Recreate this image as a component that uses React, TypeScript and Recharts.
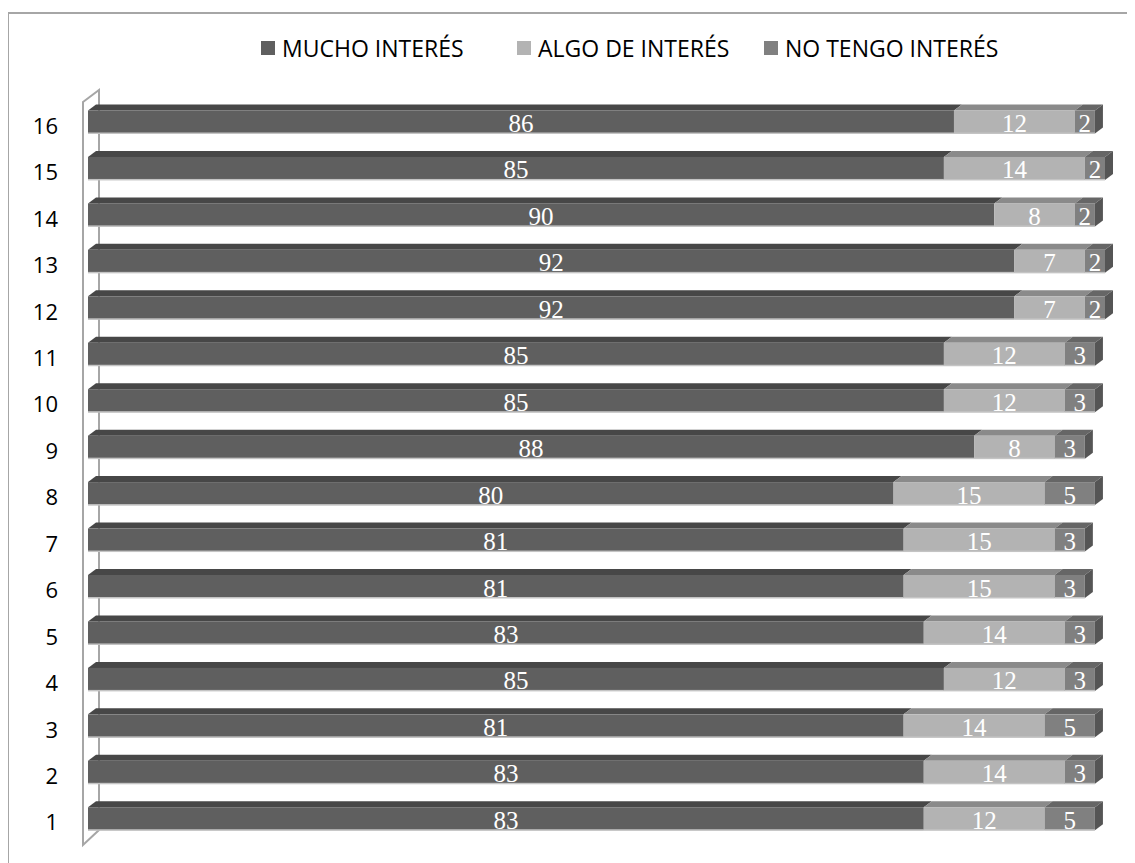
import React from "react";
import { BarChart, Bar, XAxis, YAxis, Legend, LabelList } from "recharts";

const categories = ["1", "2", "3", "4", "5", "6", "7", "8", "9", "10", "11", "12", "13", "14", "15", "16"];
const muchoInteres = [83, 83, 81, 85, 83, 81, 81, 80, 88, 85, 85, 92, 92, 90, 85, 86];
const algoInteres = [12, 14, 14, 12, 14, 15, 15, 15, 8, 12, 12, 7, 7, 8, 14, 12];
const noInteres = [5, 3, 5, 3, 3, 3, 3, 5, 3, 3, 3, 2, 2, 2, 2, 2];
const seriesNames = ["MUCHO INTERÉS", "ALGO DE INTERÉS", "NO TENGO INTERÉS"];

const data = categories.map((c, i) => ({
  cat: c,
  mucho: muchoInteres[i],
  algo: algoInteres[i],
  no: noInteres[i],
}));

const DX = 8;
const DY = 6;
const SANS = "'Open Sans', 'Liberation Sans', sans-serif";
const SERIF = "'Liberation Serif', 'DejaVu Serif', serif";

const makeShape = (front: string, top: string, side?: string) => (props: any) => {
  const { x, y, width, height } = props;
  if (!width || width <= 0) return <g />;
  return (
    <g>
      <path
        d={`M${x},${y} L${x + DX},${y - DY} L${x + width + DX},${y - DY} L${x + width},${y} Z`}
        fill={top}
      />
      {side ? (
        <path
          d={`M${x + width},${y} L${x + width + DX},${y - DY} L${x + width + DX},${y + height - DY} L${x + width},${y + height} Z`}
          fill={side}
        />
      ) : null}
      <rect x={x} y={y} width={width} height={height} fill={front} />
      <rect x={x} y={y + height - 1} width={width} height={1.5} fill="#c4c4c4" />
    </g>
  );
};

const valueLabel = (props: any) => {
  const { x, y, width, height, value } = props;
  return (
    <text
      x={x + width / 2}
      y={y + height - 1.5}
      textAnchor="middle"
      fill="#ffffff"
      fontFamily={SERIF}
      fontSize={25}
    >
      {value}
    </text>
  );
};

const yTick = (props: any) => {
  const { y, payload } = props;
  return (
    <text x={50} y={y + 12} textAnchor="end" fill="#000" fontFamily={SANS} fontSize={22}>
      {payload.value}
    </text>
  );
};

const legendColors = ["#5f5f5f", "#b3b3b3", "#808080"];
const legendOffsets = [0, 256, 503];

const renderLegend = () => (
  <div style={{ position: "relative", width: 800, height: 30 }}>
    {seriesNames.map((n, i) => (
      <div
        key={n}
        style={{
          position: "absolute",
          left: legendOffsets[i],
          top: 0,
          display: "flex",
          alignItems: "center",
          whiteSpace: "nowrap",
        }}
      >
        <span
          style={{ display: "inline-block", width: 14, height: 14, background: legendColors[i], marginRight: 7 }}
        />
        <span style={{ fontFamily: SANS, fontSize: 23, color: "#000", lineHeight: "30px" }}>{n}</span>
      </div>
    ))}
  </div>
);

export default function App() {
  return (
    <div style={{ position: "relative", width: 1127, height: 855, overflow: "hidden", background: "#fff" }}>
      <div
        style={{
          position: "absolute",
          left: -1,
          top: 4,
          width: 1200,
          height: 900,
          border: "2px solid #a6a6a6",
          boxSizing: "border-box",
        }}
      />
      <svg style={{ position: "absolute", left: 0, top: 0 }} width={1127} height={855}>
        <path d="M75,94 L91,82 L91,822 L75,837 Z" fill="#ffffff" stroke="#a6a6a6" strokeWidth={2} />
      </svg>
      <div style={{ position: "absolute", left: 0, top: 0 }}>
        <BarChart
          width={1127}
          height={855}
          data={data}
          layout="vertical"
          margin={{ top: 90.5, right: 30, bottom: 21.3, left: 0 }}
          barSize={23}
        >
          <XAxis type="number" domain={[0, 101]} hide />
          <YAxis
            type="category"
            dataKey="cat"
            reversed
            width={80}
            axisLine={false}
            tickLine={false}
            tick={yTick}
          />
          <Legend
            layout="horizontal"
            verticalAlign="middle"
            align="center"
            content={renderLegend}
            wrapperStyle={{ position: "absolute", top: 25, left: 253, width: 800, height: 30 }}
          />
          <Bar dataKey="mucho" stackId="a" name={seriesNames[0]} isAnimationActive={false} shape={makeShape("#5f5f5f", "#474747")}>
            <LabelList dataKey="mucho" content={valueLabel} />
          </Bar>
          <Bar dataKey="algo" stackId="a" name={seriesNames[1]} isAnimationActive={false} shape={makeShape("#b3b3b3", "#8a8a8a")}>
            <LabelList dataKey="algo" content={valueLabel} />
          </Bar>
          <Bar dataKey="no" stackId="a" name={seriesNames[2]} isAnimationActive={false} shape={makeShape("#808080", "#666666", "#555555")}>
            <LabelList dataKey="no" content={valueLabel} />
          </Bar>
        </BarChart>
      </div>
    </div>
  );
}
